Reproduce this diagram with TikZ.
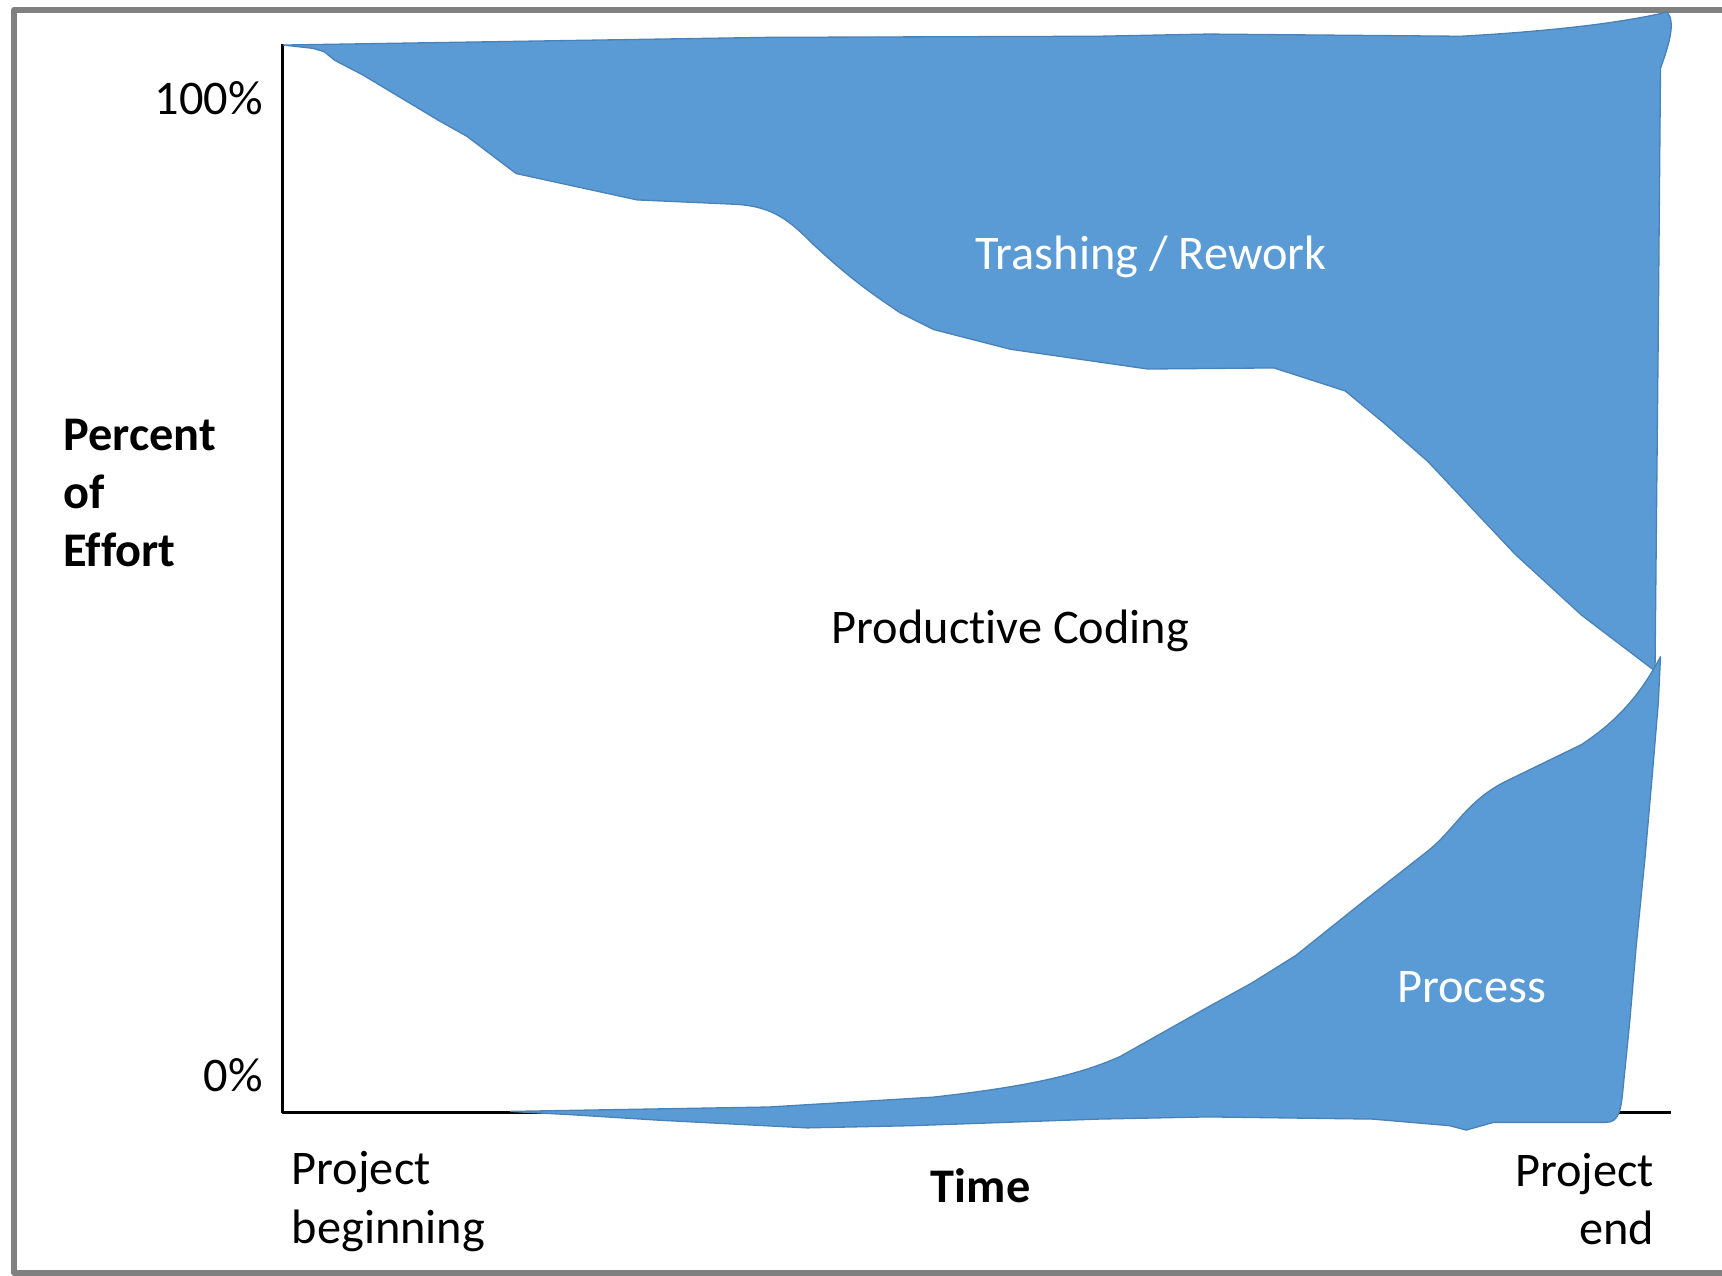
\documentclass[tikz,border=0pt]{standalone}
\usepackage{fontspec}
\setmainfont{Carlito}[Ligatures={NoCommon}]
\definecolor{effortblue}{HTML}{5B9BD5}
\definecolor{edgeblue}{HTML}{4A82B8}
\definecolor{framegray}{HTML}{808080}
\begin{document}
\begin{tikzpicture}[line join=round, x=0.25pt, y=-0.25pt]
    \tikzset{
        area/.style={fill=effortblue, draw=edgeblue, line width=0.3pt},
        label/.style={font=\fontsize{11}{13.25}\selectfont, inner sep=0pt},
        white label/.style={label, text=white},
        bold label/.style={label, font=\fontsize{11}{13.25}\selectfont\bfseries}
    }
    \useasboundingbox (0,0) rectangle (1568,1161);
    % frame, cut off at the right
    \draw[framegray, line width=1.4pt] (1568,9) -- (13,9) -- (13,1159) -- (1568,1159);
    % axes
    \draw[line width=0.75pt] (257,40) -- (257,1013) -- (1522,1013);
    % trashing / rework
    \fill[area] (258,41) -- (700,34) -- (1000,33) -- (1100,31) -- (1330,33)
        .. controls (1420,28) and (1480,20) .. (1518,11)
        .. controls (1526,20) and (1520,40) .. (1512,62)
        -- (1510,300) -- (1507,611)
        -- (1440,560) -- (1380,505) -- (1300,420) -- (1260,385) -- (1225,356)
        -- (1160,335) -- (1045,336) -- (920,318) -- (850,300) -- (820,285)
        .. controls (790,265) and (770,250) .. (740,222)
        .. controls (720,202) and (705,188) .. (670,186)
        -- (580,182) -- (470,158) -- (425,124) -- (400,110) -- (330,68)
        -- (305,55) -- (295,47) -- (285,44) -- cycle;
    % process
    \fill[area] (465,1012) -- (700,1008) -- (850,999)
        .. controls (930,990) and (980,980) .. (1020,962)
        -- (1100,917) -- (1140,895) -- (1180,870) -- (1240,822) -- (1300,775)
        .. controls (1325,755) and (1335,730) .. (1370,712)
        -- (1440,678) .. controls (1475,655) and (1495,630) .. (1512,598)
        -- (1510,640) -- (1505,700) -- (1498,780) -- (1490,860) -- (1484,930)
        -- (1478,990) .. controls (1476,1012) and (1474,1022) .. (1462,1022)
        -- (1360,1022) -- (1335,1029) -- (1320,1025) -- (1250,1019)
        -- (1100,1017) -- (1000,1019) -- (830,1025) -- (735,1027)
        -- (600,1020) -- (520,1015) -- cycle;
    % labels
    \node[label, anchor=east] (top) at (240,89) {100\%};
    \node[label, anchor=east] (bottom) at (240,979) {0\%};
    \node[bold label, anchor=west, align=left] (effort) at (57,449) {Percent\\of\\Effort};
    \node[label, anchor=west, align=left] (start) at (265,1094) {Project\\beginning};
    \node[bold label] (time) at (893,1080) {Time};
    \node[label, anchor=east, align=right] (finish) at (1507,1092) {Project\\end};
    \node[label] (coding) at (920,574) {Productive Coding};
    \node[white label] (rework) at (1048,234) {Trashing / Rework};
    \node[white label] (process) at (1340,899) {Process};
\end{tikzpicture}
\end{document}
